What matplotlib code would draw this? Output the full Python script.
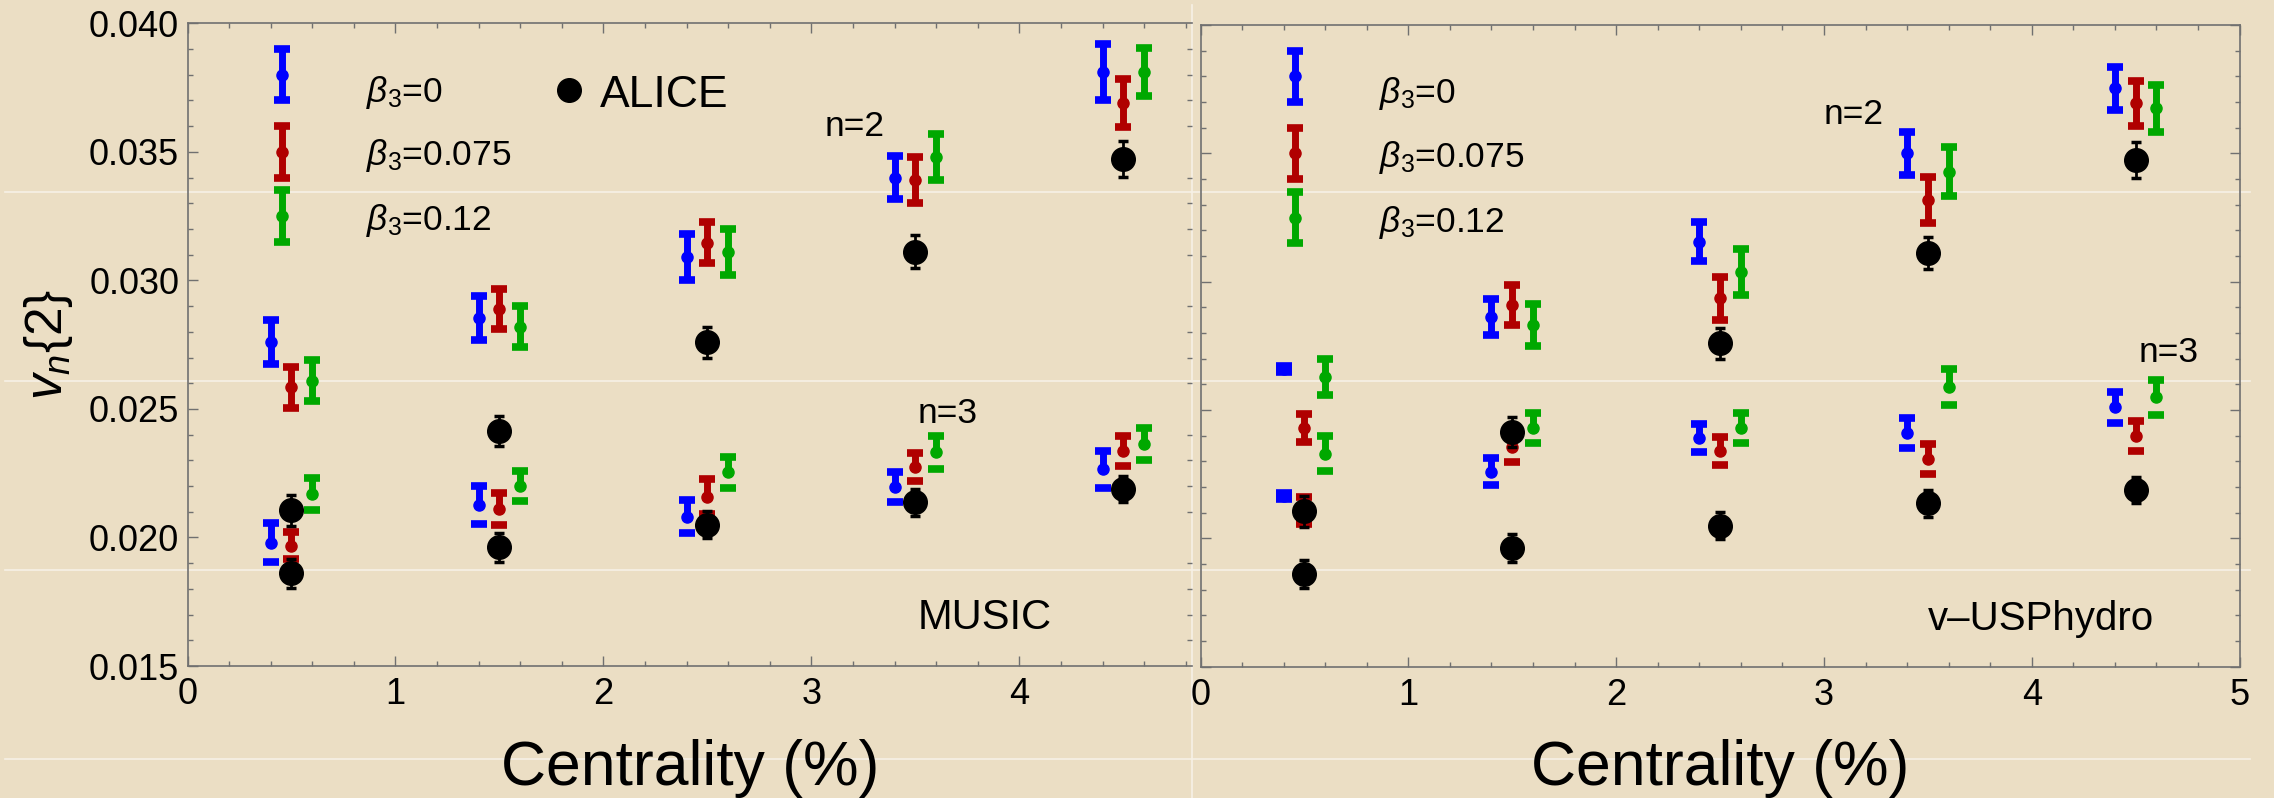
import numpy as np
import matplotlib.pyplot as plt
from matplotlib.lines import Line2D
from matplotlib.ticker import MultipleLocator, FormatStrFormatter

plt.rcParams['font.family'] = ['Liberation Sans', 'DejaVu Sans']
plt.rcParams['mathtext.fontset'] = 'custom'
plt.rcParams['mathtext.rm'] = 'Liberation Sans'
plt.rcParams['mathtext.it'] = 'Liberation Sans:italic'

# centralidad (%) de cada bin y desplazamiento de cada serie
cent = np.array([0.5, 1.5, 2.5, 3.5, 4.5])
shift = {'b0': -0.1, 'b075': 0.0, 'b012': 0.1}

# ALICE (igual en los dos paneles)
alice_n2 = np.array([0.02105, 0.02415, 0.0276, 0.03112, 0.03474])
alice_n2_err = np.array([0.0006, 0.00058, 0.0006, 0.00063, 0.0007])
alice_n3 = np.array([0.0186, 0.01961, 0.0205, 0.02136, 0.02188])
alice_n3_err = np.array([0.00055, 0.00055, 0.00052, 0.00052, 0.00052])

# MUSIC
music_n2 = {
    'b0': [0.0276, 0.02855, 0.0309, 0.0340, 0.0381],
    'b075': [0.02585, 0.0289, 0.03146, 0.0339, 0.0369],
    'b012': [0.0261, 0.0282, 0.0311, 0.0348, 0.0381],
}
music_n2_err = {
    'b0': [0.00085, 0.00085, 0.0009, 0.00084, 0.0011],
    'b075': [0.0008, 0.00078, 0.0008, 0.0009, 0.00095],
    'b012': [0.0008, 0.0008, 0.00088, 0.0009, 0.00093],
}
music_n3 = {
    'b0': [0.0198, 0.02127, 0.0208, 0.02195, 0.02266],
    'b075': [0.01968, 0.0211, 0.02158, 0.02273, 0.02337],
    'b012': [0.02169, 0.02201, 0.02253, 0.02331, 0.02363],
}
music_n3_err = {
    'b0': [0.00075, 0.00073, 0.00064, 0.00058, 0.00072],
    'b075': [0.00052, 0.00062, 0.00068, 0.00055, 0.00058],
    'b012': [0.00063, 0.00058, 0.0006, 0.00065, 0.00063],
}

# v-USPhydro
usp_n2 = {
    'b0': [0.0266, 0.02864, 0.03156, 0.0350, 0.03753],
    'b075': [0.0243, 0.02909, 0.02935, 0.03318, 0.03695],
    'b012': [0.0263, 0.02831, 0.03039, 0.03429, 0.03675],
}
usp_n2_err = {
    'b0': [0.00012, 0.0007, 0.00075, 0.00084, 0.00085],
    'b075': [0.00055, 0.00078, 0.00085, 0.0009, 0.00088],
    'b012': [0.0007, 0.00081, 0.0009, 0.00097, 0.0009],
}
usp_n3 = {
    'b0': [0.02165, 0.0226, 0.0239, 0.0241, 0.0251],
    'b075': [0.0211, 0.02357, 0.0234, 0.0231, 0.0240],
    'b012': [0.0233, 0.0243, 0.0243, 0.0259, 0.0255],
}
usp_n3_err = {
    'b0': [0.00012, 0.00052, 0.00055, 0.00058, 0.0006],
    'b075': [0.00053, 0.0006, 0.00055, 0.00058, 0.00058],
    'b012': [0.00068, 0.0006, 0.0006, 0.0007, 0.00068],
}

# leyenda: barras de muestra
leg_keys = ['b0', 'b075', 'b012']
leg_labels = [r'$\beta_3$=0', r'$\beta_3$=0.075', r'$\beta_3$=0.12']
leg_vals = [0.038, 0.035, 0.0325]
leg_err = 0.001

colors = {'b0': '#0000FF', 'b075': '#B00000', 'b012': '#00A800'}
bg = '#EBDEC4'
axcol = '#707070'

W, H = 2274, 798


def px_axes(fig, x0, y0, x1, y1):
    return fig.add_axes([x0 / W, (H - y1) / H, (x1 - x0) / W, (y1 - y0) / H])


def bars(ax, x, y, e, c, split=False):
    x = np.asarray(x, float)
    y = np.asarray(y, float)
    e = np.asarray(e, float)
    if split:
        # la mitad inferior de la barra no se ve en el original
        ax.errorbar(x, y, yerr=e, fmt='none', ecolor=c, elinewidth=0,
                    capsize=6, capthick=5.5)
        ax.errorbar(x, y + e / 2, yerr=e / 2, fmt='none', ecolor=c,
                    elinewidth=5, capsize=0)
    else:
        ax.errorbar(x, y, yerr=e, fmt='none', ecolor=c, elinewidth=5,
                    capsize=6, capthick=5.5)
    ax.plot(x, y, 'o', color=c, ms=8, mec=c)


def panel(ax, n2, n2e, n3, n3e, xmax):
    ax.set_facecolor('none')
    for k in leg_keys:
        bars(ax, cent + shift[k], n2[k], n2e[k], colors[k])
        bars(ax, cent + shift[k], n3[k], n3e[k], colors[k], split=True)
    for k, v in zip(leg_keys, leg_vals):
        bars(ax, [0.455], [v], [leg_err], colors[k])
    for yy, ee in [(alice_n2, alice_n2_err), (alice_n3, alice_n3_err)]:
        ax.errorbar(cent, yy, yerr=ee, fmt='o', color='k', ms=17,
                    elinewidth=2, capsize=3.8, capthick=2.5, zorder=5)
    for lab, yb in zip(leg_labels, [0.03695, 0.03448, 0.03195]):
        ax.text(0.86, yb, lab, fontsize=25.5, va='baseline')

    ax.set_xlim(0, xmax)
    ax.set_ylim(0.015, 0.040)
    ax.xaxis.set_major_locator(MultipleLocator(1))
    ax.xaxis.set_minor_locator(MultipleLocator(0.2))
    ax.yaxis.set_major_locator(MultipleLocator(0.005))
    ax.yaxis.set_minor_locator(MultipleLocator(0.001))
    ax.yaxis.set_major_formatter(FormatStrFormatter('%.3f'))
    ax.xaxis.set_major_formatter(FormatStrFormatter('%d'))
    ax.tick_params(which='both', direction='in', top=True, right=True,
                   color=axcol, width=1, labelsize=26)
    ax.tick_params(which='major', length=7)
    ax.tick_params(which='minor', length=3.6)
    ax.tick_params(axis='x', pad=8)
    ax.tick_params(axis='y', pad=6)
    for s in ax.spines.values():
        s.set_color(axcol)
        s.set_linewidth(1.2)
    ax.set_xlabel('Centrality (%)', fontsize=45)
    ax.xaxis.set_label_coords(0.5, -0.185)
    ax.xaxis.label.set_verticalalignment('baseline')


fig = plt.figure(figsize=(W / 100, H / 100), dpi=100, facecolor=bg)

ax1 = px_axes(fig, 187.5, 23.3, 1192, 666)
panel(ax1, music_n2, music_n2_err, music_n3, music_n3_err, 4.83)
ax1.spines['right'].set_visible(False)
ax1.tick_params(right=False)
ax1.set_ylabel(r'$v_n\{2\}$', fontsize=37)
ax1.yaxis.set_label_coords(-0.112, 0.5)
ax1.plot([1.834], [0.0374], 'o', color='k', ms=17)
ax1.text(1.983, 0.03675, 'ALICE', fontsize=32, va='baseline')
ax1.text(3.353, 0.0356, 'n=2', fontsize=25.5, ha='right', va='baseline')
ax1.text(3.51, 0.02444, 'n=3', fontsize=25.5, va='baseline')
ax1.text(3.51, 0.01645, 'MUSIC', fontsize=30, va='baseline')

ax2 = px_axes(fig, 1200.5, 25, 2239.6, 666.7)
panel(ax2, usp_n2, usp_n2_err, usp_n3, usp_n3_err, 5)
ax2.tick_params(labelleft=False)
ax2.text(3.0, 0.03614, 'n=2', fontsize=25.5, va='baseline')
ax2.text(4.516, 0.02688, 'n=3', fontsize=25.5, va='baseline')
ax2.text(3.5, 0.01643, 'v\u2013USPhydro', fontsize=29, va='baseline')

# lineas claras del original (bordes de la captura)
for yp in [192, 381, 570, 759]:
    fig.add_artist(Line2D([5 / W, 2250 / W], [1 - yp / H, 1 - yp / H],
                          color='#F7F1E6', lw=1.2, zorder=-1))
fig.add_artist(Line2D([1192 / W, 1192 / W], [0, 1 - 5 / H],
                      color='#F7F1E6', lw=1.2, zorder=-1))

fig.savefig('out.png', dpi=100, facecolor=bg)
